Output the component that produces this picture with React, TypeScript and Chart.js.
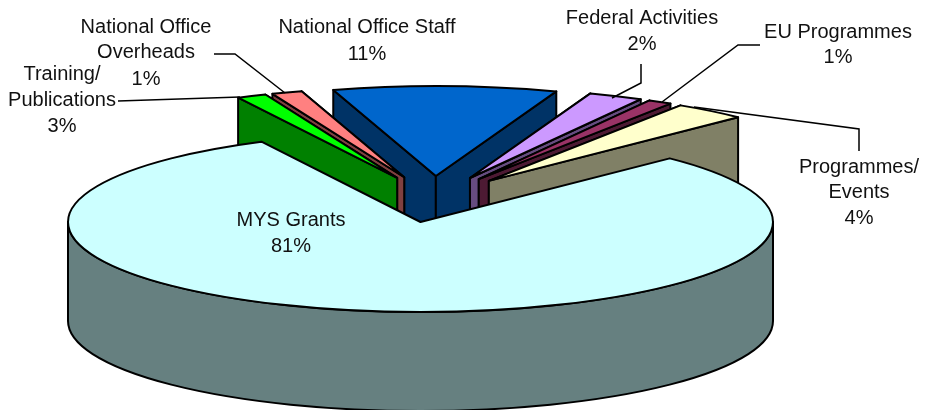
import React, { useEffect, useRef } from "react";
import { Chart, registerables } from "chart.js";

Chart.register(...registerables);

const categories = ["MYS Grants", "Training/ Publications", "National Office Overheads", "National Office Staff", "Federal Activities", "EU Programmes", "Programmes/ Events"];
// slice shares as drawn in the picture
const sliceShares = [80.05, 1.35, 1.4, 10.25, 2.5, 1.1, 3.35];
// percentages as printed on the labels
const printedPercents = ["81%", "3%", "1%", "11%", "2%", "1%", "4%"];
const exploded = [0, 1, 1, 1, 1, 1, 1];
const topColors = ["#CCFFFF", "#00FF00", "#FF8080", "#0066CC", "#CC99FF", "#993366", "#FFFFCC"];
const wallColors = ["#668080", "#008000", "#804040", "#003366", "#664C80", "#4D1A33", "#808066"];

// label lines: text, centre x, centre y
const labelLines: [number, string[], number, number[]][] = [
  [0, ["MYS Grants"], 291, [220, 246]],
  [1, ["Training/", "Publications"], 62, [74, 100, 126]],
  [2, ["National Office", "Overheads"], 146, [27, 52, 79]],
  [3, ["National Office Staff"], 367, [27, 54]],
  [4, ["Federal Activities"], 642, [18, 44]],
  [5, ["EU Programmes"], 838, [32, 57]],
  [6, ["Programmes/", "Events"], 859, [167, 192, 218]],
];
const leaders: number[][][] = [
  [[214, 54], [235, 54], [285, 93]],
  [[118, 101], [240, 97]],
  [[641, 64], [641, 83], [612, 98]],
  [[760, 45], [738, 45], [662, 102]],
  [[859, 151], [859, 129], [694, 107]],
];

const RX = 352.5;
const RY = 90;
const DEPTH = 99;
const EXPLODE_X = 88;
const EXPLODE_Y = 22;
const SHIFT_X = 13;
const SHIFT_Y = -24;

const scene3d = {
  id: "scene3d",
  beforeDatasetsDraw(chart: any) {
    const ctx: CanvasRenderingContext2D = chart.ctx;
    const arcs = chart.getDatasetMeta(0).data.map((arc: any, index: number) => ({ arc, index }));
    const mid = (a: any) => (a.startAngle + a.endAngle) / 2;
    const ordered = [...arcs].sort((p: any, q: any) => {
      const ep = p.arc.options.offset > 0 ? 0 : 1;
      const eq = q.arc.options.offset > 0 ? 0 : 1;
      if (ep !== eq) return ep - eq;
      return Math.abs(Math.cos(mid(p.arc))) - Math.abs(Math.cos(mid(q.arc)));
    });
    ctx.save();
    ctx.lineWidth = 2;
    ctx.lineJoin = "round";
    ctx.strokeStyle = "#000";
    for (const { arc, index } of ordered) {
      const m = mid(arc);
      const on = arc.options.offset > 0;
      const ax = arc.x + (on ? SHIFT_X + EXPLODE_X * Math.cos(m) : 0);
      const ay = arc.y + (on ? SHIFT_Y + EXPLODE_Y * Math.sin(m) : 0);
      const px = (a: number) => ax + RX * Math.cos(a);
      const py = (a: number) => ay + RY * Math.sin(a);
      const wall = (a: number) => {
        ctx.beginPath();
        ctx.moveTo(ax, ay);
        ctx.lineTo(px(a), py(a));
        ctx.lineTo(px(a), py(a) + DEPTH);
        ctx.lineTo(ax, ay + DEPTH);
        ctx.closePath();
        ctx.fillStyle = wallColors[index];
        ctx.fill();
        ctx.stroke();
      };
      if (on) {
        if (Math.cos(m) < 0) {
          wall(arc.endAngle);
          wall(arc.startAngle);
        } else {
          wall(arc.startAngle);
          wall(arc.endAngle);
        }
      }
      // outer rim, only the half facing the viewer
      const a0 = Math.max(arc.startAngle, 0);
      const a1 = Math.min(arc.endAngle, Math.PI);
      if (a1 > a0 && !on) {
        ctx.beginPath();
        ctx.ellipse(ax, ay, RX, RY, 0, a0, a1);
        ctx.ellipse(ax, ay + DEPTH, RX, RY, 0, a1, a0, true);
        ctx.closePath();
        ctx.fillStyle = wallColors[index];
        ctx.fill();
        ctx.stroke();
      }
      ctx.beginPath();
      ctx.moveTo(ax, ay);
      ctx.ellipse(ax, ay, RX, RY, 0, arc.startAngle, arc.endAngle);
      ctx.closePath();
      ctx.fillStyle = topColors[index];
      ctx.fill();
      ctx.stroke();
    }
    ctx.restore();
    return false;
  },
  afterDraw(chart: any) {
    const ctx: CanvasRenderingContext2D = chart.ctx;
    ctx.save();
    ctx.strokeStyle = "#000";
    ctx.lineWidth = 1.5;
    for (const line of leaders) {
      ctx.beginPath();
      line.forEach(([x, y], i) => (i ? ctx.lineTo(x, y) : ctx.moveTo(x, y)));
      ctx.stroke();
    }
    ctx.fillStyle = "#111";
    ctx.font = '20px "Liberation Sans", Arial, sans-serif';
    ctx.textAlign = "center";
    ctx.textBaseline = "middle";
    for (const [idx, lines, x, ys] of labelLines) {
      lines.forEach((t, i) => ctx.fillText(t, x, ys[i]));
      ctx.fillText(printedPercents[idx], x, ys[lines.length]);
    }
    ctx.restore();
  },
};

export default function App() {
  const ref = useRef<HTMLCanvasElement>(null);
  useEffect(() => {
    const chart = new Chart(ref.current!, {
      type: "pie",
      data: {
        labels: categories,
        datasets: [{ data: sliceShares, offset: exploded, backgroundColor: topColors, borderColor: "#000" }],
      },
      options: {
        animation: false,
        responsive: false,
        devicePixelRatio: 1,
        rotation: 45,
        layout: { padding: { top: 34, right: 84, bottom: 0, left: 0 } },
        plugins: { legend: { display: false }, tooltip: { enabled: false } },
      },
      plugins: [scene3d],
    } as any);
    return () => chart.destroy();
  }, []);
  return (
    <div style={{ position: "absolute", left: 0, top: 0, width: 925, height: 410, overflow: "hidden", background: "#fff" }}>
      <canvas ref={ref} width={925} height={410} style={{ display: "block" }} />
    </div>
  );
}
